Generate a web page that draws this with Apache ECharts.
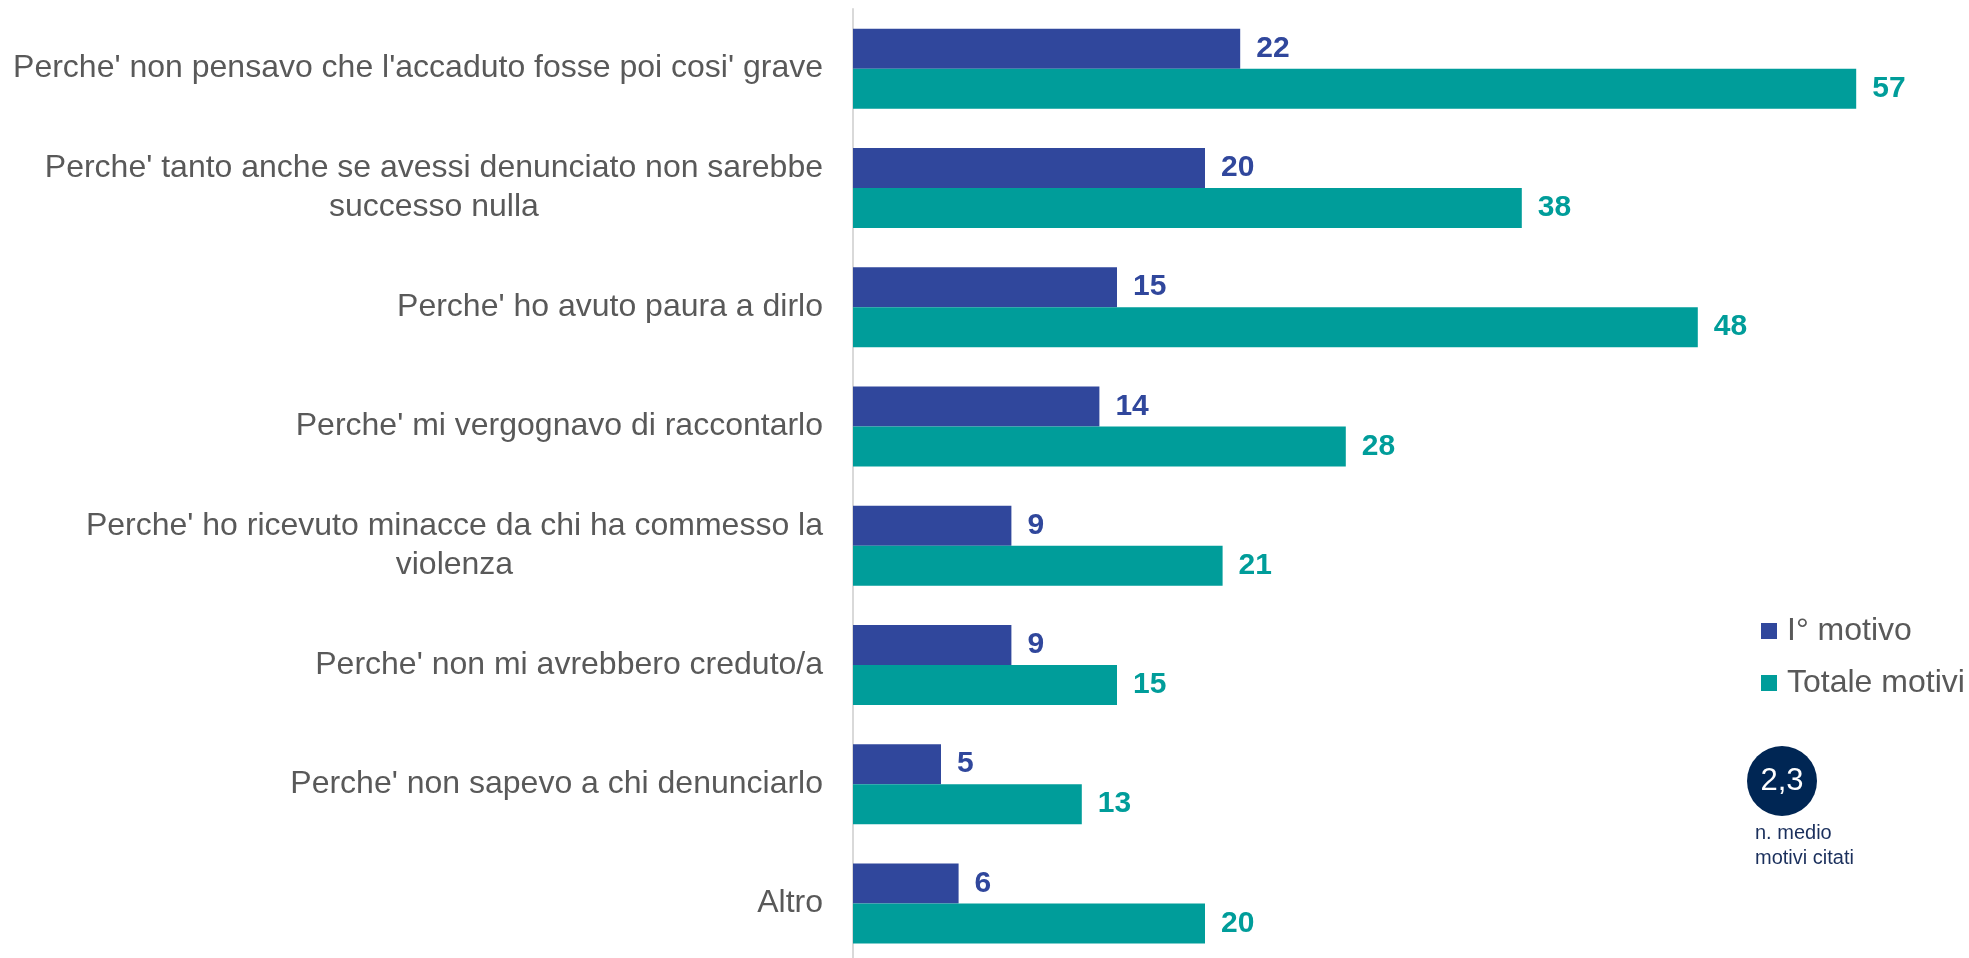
<!DOCTYPE html>
<html>
<head>
<meta charset="utf-8">
<script src="https://cdn.jsdelivr.net/npm/echarts@6/dist/echarts.min.js"></script>
<style>
  html, body { margin: 0; padding: 0; background: #fff; }
  #chart { width: 1969px; height: 958px; }
</style>
</head>
<body>
<div id="chart"></div>
<script>
// dati
var categories = [
    "Perche' non pensavo che l'accaduto fosse poi cosi' grave",
    "Perche' tanto anche se avessi denunciato non sarebbe\nsuccesso nulla",
    "Perche' ho avuto paura a dirlo",
    "Perche' mi vergognavo di raccontarlo",
    "Perche' ho ricevuto minacce da chi ha commesso la\nviolenza",
    "Perche' non mi avrebbero creduto/a",
    "Perche' non sapevo a chi denunciarlo",
    "Altro"
];
var primoMotivo = [22, 20, 15, 14, 9, 9, 5, 6];
var totaleMotivi = [57, 38, 48, 28, 21, 15, 13, 20];
var seriesNames = ['I° motivo', 'Totale motivi'];
var mediaMotivi = '2,3';
var mediaLabel = 'n. medio\nmotivi citati';

var BLUE = '#30479c';
var TEAL = '#009d9a';
var GREY = '#595959';
var FONT = 'Liberation Sans';

var valueLabel = function (color) {
    return {
        show: true,
        position: 'right',
        distance: 16,
        color: color,
        fontFamily: FONT,
        fontWeight: 'bold',
        fontSize: 30
    };
};

var option = {
    backgroundColor: '#fff',
    animation: false,
    grid: {
        left: 853,
        top: 9,
        width: 1056,
        height: 954,
        outerBoundsMode: 'none'
    },
    legend: {
        orient: 'vertical',
        left: 1761,
        top: 613,
        padding: 0,
        itemWidth: 16,
        itemHeight: 16,
        itemGap: 16,
        icon: 'rect',
        textStyle: {
            color: GREY,
            fontFamily: FONT,
            fontSize: 32,
            lineHeight: 36,
            padding: [0, 0, 0, 5]
        },
        data: seriesNames
    },
    xAxis: {
        type: 'value',
        min: 0,
        max: 60,
        show: false,
        splitLine: { show: false }
    },
    yAxis: {
        type: 'category',
        inverse: true,
        data: categories,
        axisTick: { show: false },
        axisLine: {
            show: true,
            lineStyle: { color: '#d9d9d9', width: 2 }
        },
        axisLabel: {
            margin: 30,
            color: GREY,
            fontFamily: FONT,
            fontSize: 32,
            lineHeight: 39,
            formatter: function (v) {
                // righe centrate tra loro, blocco allineato a destra
                return v.split('\n').map(function (l) { return '{c|' + l + '}'; }).join('\n');
            },
            rich: {
                c: {
                    align: 'center',
                    color: GREY,
                    fontFamily: FONT,
                    fontSize: 32,
                    lineHeight: 39
                }
            }
        }
    },
    series: [
        {
            name: seriesNames[0],
            type: 'bar',
            data: primoMotivo,
            barWidth: 40,
            barGap: '0%',
            itemStyle: { color: BLUE },
            label: valueLabel(BLUE)
        },
        {
            name: seriesNames[1],
            type: 'bar',
            data: totaleMotivi,
            barWidth: 40,
            barGap: '0%',
            itemStyle: { color: TEAL },
            label: valueLabel(TEAL)
        }
    ],
    graphic: [
        {
            type: 'circle',
            shape: { cx: 1782, cy: 781, r: 35 },
            style: { fill: '#002654' }
        },
        {
            type: 'text',
            x: 1782,
            y: 781,
            style: {
                text: mediaMotivi,
                fill: '#fff',
                font: '31px "Liberation Sans"',
                align: 'center',
                verticalAlign: 'middle'
            }
        },
        {
            type: 'text',
            x: 1755,
            y: 821,
            style: {
                text: mediaLabel,
                fill: '#1a2f5c',
                font: '20px "Liberation Sans"',
                lineHeight: 25,
                align: 'left',
                verticalAlign: 'top'
            }
        }
    ]
};

echarts.init(document.getElementById('chart')).setOption(option);
</script>
</body>
</html>
